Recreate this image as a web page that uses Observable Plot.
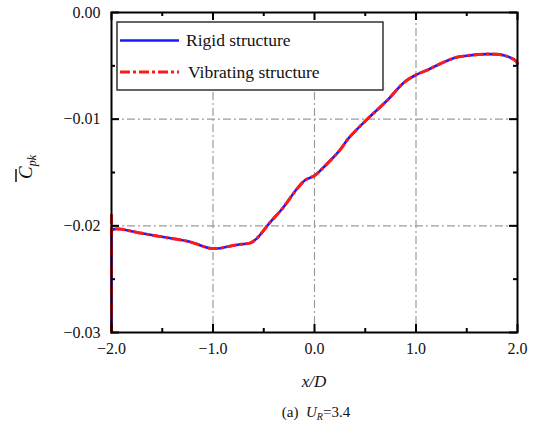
<!DOCTYPE html>
<html>
<head>
<meta charset="utf-8">
<script src="https://cdn.jsdelivr.net/npm/d3@7"></script>
<script src="https://cdn.jsdelivr.net/npm/@observablehq/plot@0.6"></script>
<style>
  html, body { margin: 0; padding: 0; background: #fff; }
  svg { overflow: visible; }
</style>
</head>
<body>
<div id="chart"></div>
<script>
// ---- data ----
const rigidX = [-2, -2, -2, -1.97, -1.92, -1.7, -1.46, -1.23, -1.03, -0.93, -0.83, -0.70, -0.63, -0.57, -0.44, -0.31, -0.17, -0.09, 0.0, 0.07, 0.25, 0.335, 0.52, 0.71, 0.89, 1.01, 1.11, 1.24, 1.40, 1.55, 1.70, 1.86, 1.98, 2.0];
const rigidY = [-0.03, -0.0205, -0.0205, -0.0203, -0.0203, -0.0207, -0.0211, -0.0215, -0.0221, -0.0221, -0.0219, -0.0217, -0.0216, -0.0212, -0.0197, -0.0183, -0.0165, -0.0157, -0.0153, -0.0147, -0.0129, -0.0118, -0.0100, -0.0083, -0.0065, -0.0058, -0.0054, -0.0048, -0.0042, -0.0040, -0.0039, -0.0040, -0.0045, -0.0048];
const vibX = [-2, -2, -2, -1.99, -1.97, -1.92, -1.7, -1.46, -1.23, -1.03, -0.93, -0.83, -0.70, -0.63, -0.57, -0.44, -0.31, -0.17, -0.09, 0.0, 0.07, 0.25, 0.335, 0.52, 0.71, 0.89, 1.01, 1.11, 1.24, 1.40, 1.55, 1.70, 1.86, 1.98, 2.0];
const vibY = [-0.03, -0.0190, -0.0190, -0.0202, -0.0203, -0.0203, -0.0207, -0.0211, -0.0215, -0.0221, -0.0221, -0.0219, -0.0217, -0.0216, -0.0212, -0.0197, -0.0183, -0.0165, -0.0157, -0.0153, -0.0147, -0.0129, -0.0118, -0.0100, -0.0083, -0.0065, -0.0058, -0.0054, -0.0048, -0.0042, -0.0040, -0.0039, -0.0040, -0.0045, -0.0048];
const xMajor = [-2, -1, 0, 1, 2];
const xMinor = [-1.5, -0.5, 0.5, 1.5];
const yMajor = [-0.03, -0.02, -0.01, 0];
const yMinor = [-0.025, -0.015, -0.005];
const xGrid = [-1, 0, 1];
const yGrid = [-0.02, -0.01];
const seriesNames = ["Rigid structure", "Vibrating structure"];

const rigid = rigidX.map((x, i) => ({x, y: rigidY[i]}));
const vib = vibX.map((x, i) => ({x, y: vibY[i]}));

const W = 540, H = 426, mL = 111, mR = 23, mT = 12, mB = 94;
const pw = W - mL - mR, ph = H - mT - mB;
const ff = "'Liberation Serif', 'Times New Roman', serif";
const gridStyle = {stroke: "#9a9a9a", strokeOpacity: 1, strokeWidth: 1.2, strokeDasharray: "8,3,2,3"};

const svg = Plot.plot({
  width: W, height: H,
  marginLeft: mL, marginRight: mR, marginTop: mT, marginBottom: mB,
  style: {fontFamily: ff, fontSize: "16px", color: "#111", background: "#fff"},
  x: {domain: [-2, 2]},
  y: {domain: [-0.03, 0]},
  marks: [
    Plot.gridX(xGrid, gridStyle),
    Plot.gridY(yGrid, gridStyle),
    Plot.line(rigid, {x: "x", y: "y", stroke: "#1a1aff", strokeWidth: 2.6, curve: "catmull-rom"}),
    Plot.line(vib, {x: "x", y: "y", stroke: "#ff1a1a", strokeWidth: 3, strokeDasharray: "10,3,3,3", strokeLinecap: "butt", curve: "catmull-rom"}),
    // inward ticks
    Plot.tickX(xMajor, {x: d => d, insetTop: ph - 8, stroke: "#000", strokeWidth: 2}),
    Plot.tickX(xMajor, {x: d => d, insetBottom: ph - 8, stroke: "#000", strokeWidth: 2}),
    Plot.tickX(xMinor, {x: d => d, insetTop: ph - 4, stroke: "#000", strokeWidth: 2}),
    Plot.tickX(xMinor, {x: d => d, insetBottom: ph - 4, stroke: "#000", strokeWidth: 2}),
    Plot.tickY(yMajor, {y: d => d, insetRight: pw - 8, stroke: "#000", strokeWidth: 2}),
    Plot.tickY(yMajor, {y: d => d, insetLeft: pw - 8, stroke: "#000", strokeWidth: 2}),
    Plot.tickY(yMinor, {y: d => d, insetRight: pw - 4, stroke: "#000", strokeWidth: 2}),
    Plot.tickY(yMinor, {y: d => d, insetLeft: pw - 4, stroke: "#000", strokeWidth: 2}),
    Plot.axisX({ticks: xMajor, tickSize: 0, tickPadding: 10, tickFormat: d3.format(".1f"), label: null, fontSize: 16, fontFamily: ff}),
    Plot.axisY({ticks: yMajor, tickSize: 0, tickPadding: 11, tickFormat: d3.format(".2f"), label: null, fontSize: 16, fontFamily: ff}),
    Plot.frame({stroke: "#000", strokeWidth: 2})
  ]
});
document.getElementById("chart").appendChild(svg);

const s = d3.select(svg);

// legend
const lg = s.append("g").attr("text-anchor", "start");
lg.append("rect").attr("x", 117).attr("y", 22).attr("width", 266).attr("height", 68)
  .attr("fill", "#fff").attr("stroke", "#333").attr("stroke-width", 1.5);
lg.append("line").attr("x1", 120).attr("x2", 179).attr("y1", 40.5).attr("y2", 40.5)
  .attr("stroke", "#1a1aff").attr("stroke-width", 2.6);
lg.append("line").attr("x1", 120).attr("x2", 179).attr("y1", 72).attr("y2", 72)
  .attr("stroke", "#ff1a1a").attr("stroke-width", 3).attr("stroke-dasharray", "10,3,3,3");
lg.append("text").attr("x", 186).attr("y", 46).attr("text-anchor", "start").attr("font-family", ff).attr("font-size", 17.5)
  .attr("fill", "#111").text(seriesNames[0]);
lg.append("text").attr("x", 188).attr("y", 77.5).attr("text-anchor", "start").attr("font-family", ff).attr("font-size", 17.5)
  .attr("fill", "#111").text(seriesNames[1]);

// x axis label
s.append("text").attr("x", 314).attr("y", 387).attr("text-anchor", "middle")
  .attr("font-family", ff).attr("font-size", 17).attr("font-style", "italic").attr("fill", "#111")
  .text("x/D");

// caption
const cap = s.append("text").attr("x", 316).attr("y", 417).attr("text-anchor", "middle")
  .attr("font-family", ff).attr("font-size", 15).attr("fill", "#111");
cap.append("tspan").text("(a)\u00a0\u00a0");
cap.append("tspan").attr("font-style", "italic").text("U");
cap.append("tspan").attr("font-style", "italic").attr("font-size", 10).attr("dy", 3).text("R");
cap.append("tspan").attr("dy", -3).text("=3.4");

// y axis title
const yt = s.append("g").attr("transform", "translate(32,167) rotate(-90)");
const t = yt.append("text").attr("text-anchor", "middle").attr("font-family", ff)
  .attr("font-size", 19).attr("font-style", "italic").attr("fill", "#111");
t.append("tspan").text("C");
t.append("tspan").attr("font-size", 12).attr("dy", 4).text("pk");
yt.append("line").attr("x1", -15).attr("x2", -2).attr("y1", -16).attr("y2", -16)
  .attr("stroke", "#111").attr("stroke-width", 1.5);
</script>
</body>
</html>
